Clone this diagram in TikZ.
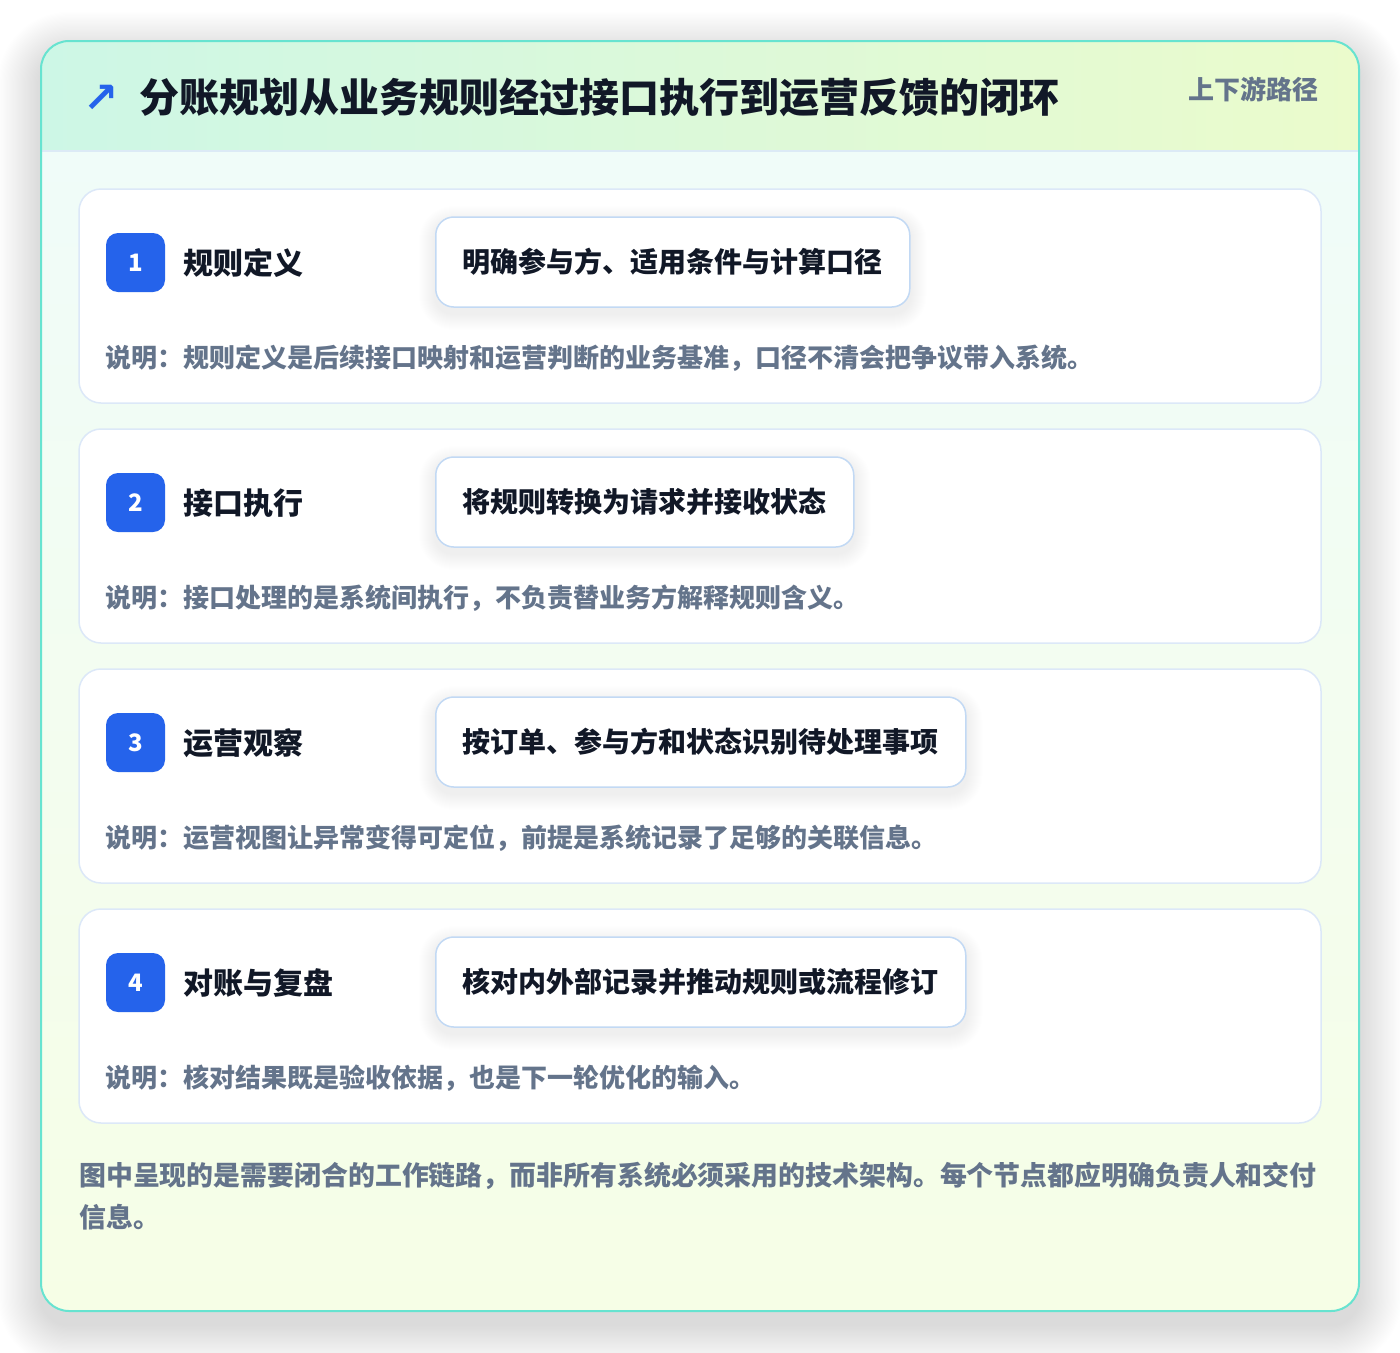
\documentclass[tikz,border=0pt]{standalone}
\usepackage{fontspec}
\setmainfont{Noto Sans CJK SC}
\newfontfamily\symfont{DejaVu Sans}
\definecolor{frameline}{HTML}{67E3D0}
\definecolor{hdrL}{HTML}{CDF7E6}
\definecolor{hdrR}{HTML}{EBFBCC}
\definecolor{hdrline}{HTML}{DCEAF6}
\definecolor{bodytop}{HTML}{F0FCF9}
\definecolor{bodybot}{HTML}{F6FEE6}
\definecolor{cardline}{HTML}{DCE8F8}
\definecolor{pillline}{HTML}{C2D9F4}
\definecolor{badgeblue}{HTML}{2563EB}
\definecolor{ink}{HTML}{111827}
\definecolor{muted}{HTML}{64748B}
\pgfdeclarelayer{background}
\pgfdeclarelayer{shadow}
\pgfsetlayers{background,shadow,main}
\tikzset{
  framebox/.style={draw=frameline, line width=2pt, rounded corners=28pt, minimum width=1318pt, minimum height=1270pt, inner sep=0pt},
  cardbox/.style={draw=cardline, line width=1.5pt, fill=white, rounded corners=22pt, minimum width=1242pt, minimum height=214pt, inner sep=0pt},
  badgebox/.style={fill=badgeblue, rounded corners=12pt, minimum width=59pt, minimum height=59pt, inner sep=0pt, text=white, font=\bfseries\fontsize{24}{24}\selectfont},
  stepname/.style={anchor=base west, inner sep=0pt, text=ink, font=\bfseries\fontsize{30}{36}\selectfont},
  pillbox/.style={draw=pillline, line width=1.5pt, fill=white, rounded corners=18pt, minimum height=90pt, inner xsep=27pt, inner ysep=0pt, anchor=west, text=ink, font=\bfseries\fontsize{28}{32}\selectfont},
  desctext/.style={anchor=base west, inner sep=0pt, text=muted, font=\bfseries\fontsize{26}{30}\selectfont},
  foottext/.style={anchor=base west, inner sep=0pt, text=muted, font=\bfseries\fontsize{26.9}{30}\selectfont},
}
\begin{document}
\begin{tikzpicture}[x=1pt,y=-1pt]
\useasboundingbox (0,0) rectangle (1400,1352);
\begin{pgfonlayer}{background}
  \fill[white] (0,0) rectangle (1400,1352);
  % soft outer shadow
  \foreach \k in {1,...,36}{
    \fill[black, opacity=0.0022, rounded corners={(28+1.2*\k)*1pt}] ({41-1.2*\k},{41-1.2*\k+14}) rectangle ({1359+1.2*\k},{1311+1.2*\k+14});
  }
  \begin{scope}
    \clip[rounded corners=28pt] (41,41) rectangle (1359,1311);
    \shade[top color=bodytop, bottom color=bodybot] (41,151) rectangle (1359,1311);
    \shade[left color=hdrL, right color=hdrR] (41,41) rectangle (1359,151);
  \end{scope}
  \draw[hdrline, line width=1.5pt] (42,151) -- (1358,151);
  \node[framebox] (frame) at (700,676) {};
  \foreach \i in {1,...,4}{
    \node[cardbox] (card\i) at (700,{296+240*(\i-1)}) {};
  }
\end{pgfonlayer}

% header
\node[inner sep=0pt, text=badgeblue, font=\symfont\bfseries\fontsize{42}{42}\selectfont] (icon) at (101.5,99) {↗};
\node[anchor=base west, inner sep=0pt, text=ink, font=\bfseries\fontsize{40}{44}\selectfont] (title) at (139.5,112.5) {分账规划从业务规则经过接口执行到运营反馈的闭环};
\node[anchor=base east, inner sep=0pt, text=muted, font=\bfseries\fontsize{26}{30}\selectfont] (subtitle) at (1319,99) {上下游路径};

% steps
\foreach \i/\nm/\pl/\ds in {%
  1/规则定义/明确参与方、适用条件与计算口径/说明：规则定义是后续接口映射和运营判断的业务基准，口径不清会把争议带入系统。,
  2/接口执行/将规则转换为请求并接收状态/说明：接口处理的是系统间执行，不负责替业务方解释规则含义。,
  3/运营观察/按订单、参与方和状态识别待处理事项/说明：运营视图让异常变得可定位，前提是系统记录了足够的关联信息。,
  4/对账与复盘/核对内外部记录并推动规则或流程修订/说明：核对结果既是验收依据，也是下一轮优化的输入。}{
  \pgfmathsetmacro\yy{240*(\i-1)}
  \node[badgebox] (badge\i) at (135.5,{262.5+\yy}) {\i};
  \node[stepname] (name\i) at (183,{274.4+\yy}) {\nm};
  \node[pillbox] (pill\i) at (435,{262+\yy}) {\pl};
  \node[desctext] (desc\i) at (105.5,{367+\yy}) {\ds};
  \begin{pgfonlayer}{shadow}
    \foreach \k in {1,...,16}{
      \fill[black, opacity=0.0035, rounded corners={(18+\k)*1pt}]
        ([xshift=-\k pt, yshift={(\k-6)*1pt}]pill\i.north west) rectangle ([xshift=\k pt, yshift={-(\k+6)*1pt}]pill\i.south east);
    }
  \end{pgfonlayer}
}

% footer
\node[foottext] (foot1) at (79,1185) {图中呈现的是需要闭合的工作链路，而非所有系统必须采用的技术架构。每个节点都应明确负责人和交付};
\node[foottext] (foot2) at (79,1227) {信息。};
\end{tikzpicture}
\end{document}
